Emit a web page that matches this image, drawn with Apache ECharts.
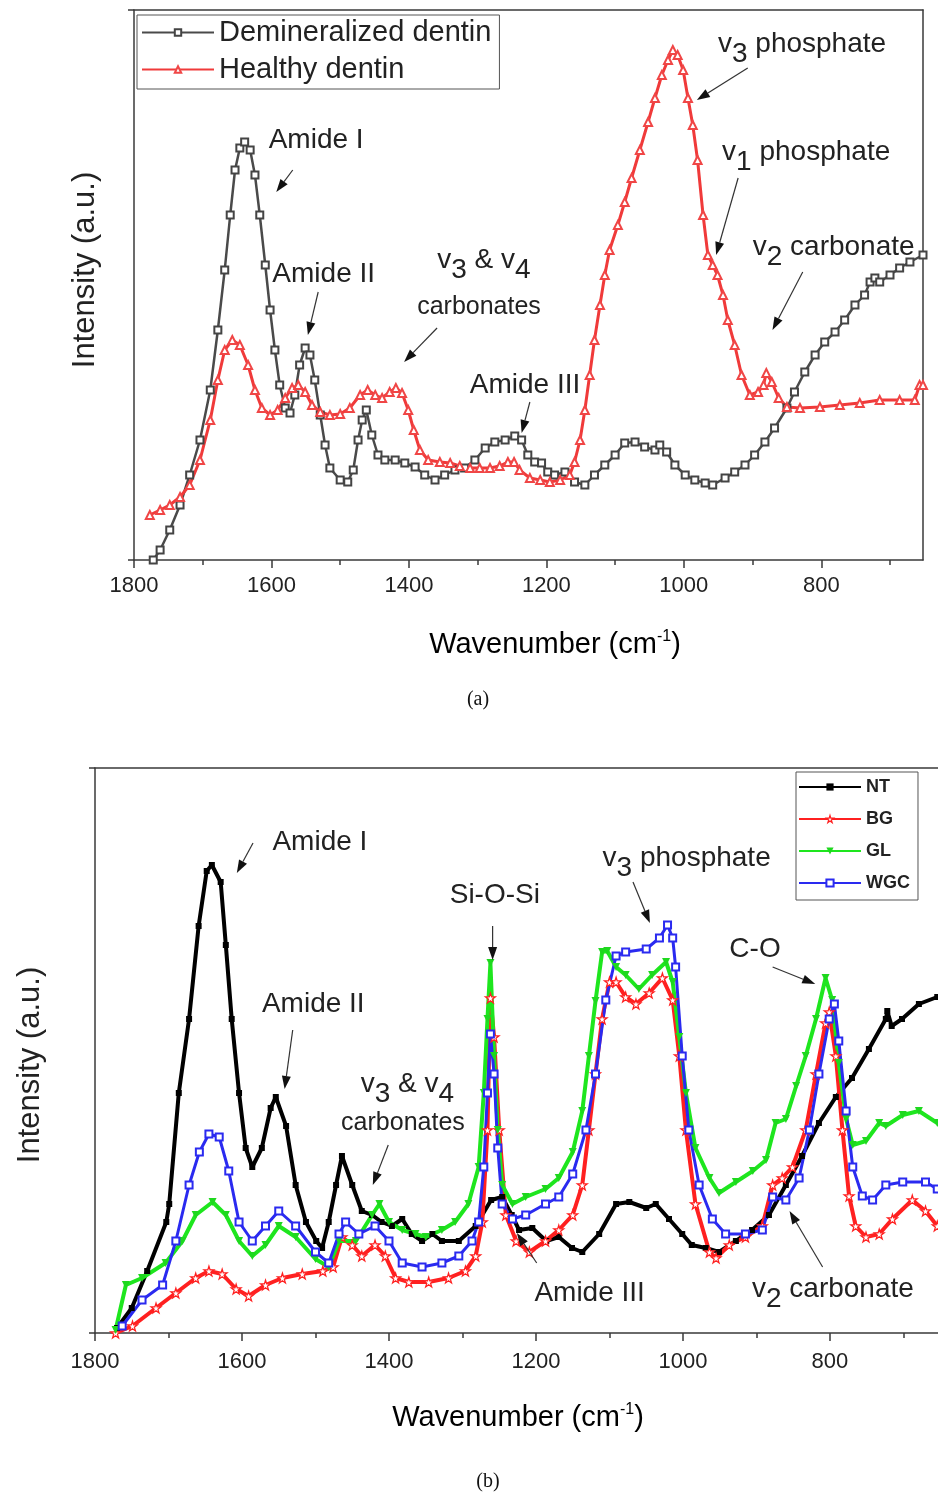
<!DOCTYPE html>
<html><head><meta charset="utf-8">
<script src="https://cdn.jsdelivr.net/npm/echarts@6/dist/echarts.min.js"></script>
<style>html,body{margin:0;padding:0;background:#fff}#c{width:938px;height:1499px}</style>
</head><body><div id="c"></div>
<script>
// ---------- Panel (a) data ----------
const demWave = [1772,1762,1748,1733,1719,1704,1689,1678,1668,1660,1653,1646,1639,1631,1624,1617,1609,1602,1595,1588,1580,1573,1566,1559,1551,1544,1537,1529,1522,1515,1500,1489,1481,1474,1468,1462,1454,1445,1435,1420,1406,1391,1377,1362,1348,1333,1319,1304,1289,1275,1260,1246,1236,1227,1217,1207,1198,1188,1173,1159,1144,1130,1115,1100,1086,1071,1057,1042,1035,1025,1013,998,984,969,958,940,926,911,897,882,868,850,839,824,809,795,780,766,751,737,729,722,715,700,686,671,652];
const demInt  = [0,10,30,55,85,120,170,230,290,345,390,412,418,410,385,345,295,250,210,175,152,147,165,195,212,205,180,145,115,92,80,78,90,120,140,150,125,105,100,100,97,93,85,80,85,90,92,100,112,118,120,124,120,105,98,97,88,85,88,78,75,85,95,105,117,118,113,110,115,108,95,85,80,77,75,82,88,95,105,118,132,152,168,188,205,218,228,240,255,265,278,282,278,285,292,298,305];
const healthyWave = [1777,1762,1748,1733,1719,1704,1689,1678,1668,1657,1646,1634,1624,1614,1602,1591,1580,1570,1561,1551,1541,1529,1515,1500,1486,1471,1460,1449,1439,1428,1419,1410,1401,1393,1384,1372,1355,1340,1326,1311,1297,1282,1268,1256,1247,1239,1224,1209,1195,1180,1166,1159,1151,1144,1137,1130,1122,1115,1108,1096,1086,1076,1064,1052,1042,1032,1023,1016,1009,1001,994,987,980,972,965,958,951,943,936,926,916,904,892,884,880,872,862,850,831,802,773,744,715,686,664,657,652];
const healthyInt  = [45,50,55,63,75,100,140,180,210,220,215,195,170,152,145,150,162,172,175,168,155,148,145,146,152,165,170,165,162,168,172,167,150,130,110,100,98,97,94,92,92,92,94,98,98,90,82,80,78,80,85,98,120,150,185,220,255,285,310,335,358,382,410,438,462,485,500,510,505,490,462,435,400,345,305,295,285,265,240,215,185,165,168,175,187,178,162,153,152,153,155,157,160,160,160,175,175];

// ---------- Panel (b) data ----------
const ntWave = [1770,1750,1729,1703,1699,1686,1672,1659,1648,1641,1629,1622,1614,1604,1595,1586,1573,1561,1554,1540,1527,1513,1499,1491,1482,1472,1464,1450,1437,1423,1410,1396,1382,1369,1355,1341,1328,1305,1282,1261,1246,1233,1223,1205,1186,1169,1151,1137,1114,1091,1073,1050,1037,1019,1001,988,969,951,928,906,883,860,838,815,792,770,747,724,722,716,702,679,654];
const ntInt  = [5,25,62,111,129,240,314,407,462,468,451,388,314,240,185,166,185,225,236,207,148,111,92,85,111,148,177,148,122,118,111,107,114,99,92,99,92,92,107,133,136,118,103,105,92,96,85,81,99,129,131,125,129,114,99,88,85,81,92,103,118,148,177,210,236,255,284,314,322,307,314,329,336];
const bgWave = [1772,1749,1717,1690,1663,1645,1627,1608,1591,1568,1545,1518,1490,1476,1464,1450,1437,1419,1405,1391,1373,1346,1319,1296,1282,1273,1266,1262,1257,1250,1241,1227,1209,1187,1169,1150,1137,1128,1119,1110,1100,1091,1078,1064,1046,1028,1014,1005,996,983,964,955,937,915,892,878,865,851,833,819,806,801,792,783,774,765,751,733,715,688,670,654];
const bgInt  = [0,7,25,40,55,62,59,44,37,48,55,59,62,66,96,88,77,88,77,55,51,51,55,62,77,111,203,335,296,203,118,92,81,92,103,118,148,203,259,314,351,351,336,329,340,355,333,277,203,129,81,75,88,96,107,148,155,166,203,259,310,321,277,203,137,107,96,99,114,133,122,107];
const glWave = [1772,1758,1736,1704,1681,1663,1640,1622,1604,1586,1568,1550,1527,1500,1482,1468,1445,1423,1413,1400,1382,1364,1350,1328,1310,1292,1278,1271,1266,1262,1257,1252,1246,1232,1214,1187,1169,1150,1137,1128,1119,1110,1103,1091,1078,1060,1042,1023,1014,1005,996,983,964,951,928,905,887,874,860,846,833,819,806,797,788,778,769,751,733,724,701,679,654];
const glInt  = [3,48,55,70,92,118,131,118,92,77,88,107,96,74,66,92,92,118,129,111,103,99,96,103,111,129,166,240,314,370,277,203,148,129,136,144,155,181,222,277,332,381,382,366,358,344,358,371,351,296,240,185,155,140,151,162,173,210,214,247,277,314,355,333,270,214,188,192,210,207,218,222,210];
const wgcWave = [1763,1736,1708,1690,1672,1658,1645,1631,1618,1604,1586,1568,1550,1527,1500,1482,1468,1459,1441,1419,1400,1382,1355,1328,1305,1287,1278,1271,1266,1262,1257,1252,1246,1232,1214,1187,1169,1150,1132,1119,1105,1091,1078,1050,1032,1021,1014,1010,1001,992,978,960,942,915,892,878,860,842,828,815,801,794,788,778,769,756,742,724,701,670,654];
const wgcInt  = [7,33,48,92,148,181,199,196,162,111,92,107,122,107,81,70,99,111,99,107,92,70,66,70,77,92,111,166,240,299,259,185,129,114,118,129,136,159,203,259,333,377,381,384,395,408,395,366,277,203,148,114,99,99,103,136,133,155,203,259,314,329,292,222,166,137,133,148,151,151,144];

// tick labels
const majorTicks = [800,1000,1200,1400,1600,1800];
const minorTicks = [700,900,1100,1300,1500,1700];

// annotations: label anchor, arrow tail, arrow head in data units (wavenumber, intensity)
const annA = [
  {t:'{n|Amide I}', at:[1535,420], tail:[1569,390], head:[1593,368]},
  {t:'{n|Amide II}', at:[1524,286], tail:[1532,268], head:[1547,225]},
  {t:'{n|v}{s|3}{n| & v}{s|4}', at:[1291,300], tail:null, head:null},
  {t:'{m|carbonates}', at:[1298,253], tail:[1359,232], head:[1407,198]},
  {t:'{n|Amide III}', at:[1231,175], tail:[1224,158], head:[1236,127]},
  {t:'{n|v}{s|3}{n| phosphate}', at:[828,516], tail:[907,492], head:[981,460]},
  {t:'{n|v}{s|1}{n| phosphate}', at:[822,408], tail:[921,382], head:[953,305]},
  {t:'{n|v}{s|2}{n| carbonate}', at:[782,313], tail:[827,288], head:[871,230]}
];
const annB = [
  {t:'{n|Amide I}', at:[1494,491], tail:[1585,490], head:[1607,460]},
  {t:'{n|Amide II}', at:[1503,329], tail:[1531,303], head:[1542,244]},
  {t:'{n|v}{s|3}{n| & v}{s|4}', at:[1375,249], tail:null, head:null},
  {t:'{m|carbonates}', at:[1381,210], tail:[1401,188], head:[1422,148]},
  {t:'{n|Si-O-Si}', at:[1256,438], tail:[1259,407], head:[1259,373]},
  {t:'{n|v}{s|3}{n| phosphate}', at:[995,475], tail:[1068,451], head:[1045,410]},
  {t:'{n|C-O}', at:[902,384], tail:[878,366], head:[820,349]},
  {t:'{n|Amide III}', at:[1127,40], tail:[1199,70], head:[1226,100]},
  {t:'{n|v}{s|2}{n| carbonate}', at:[796,44], tail:[810,66], head:[855,122]}
];

const FONT = 'Liberation Sans, Arial, Helvetica, sans-serif';
const NARROW = 'Liberation Sans Narrow, Arial Narrow, Liberation Sans, sans-serif';
const zip = (a,b) => a.map((v,i)=>[v,b[i]]);
const STAR = 'path://M50,0 L61,35 L98,35 L68,57 L79,91 L50,70 L21,91 L32,57 L2,35 L39,35 Z';

const axisCol = '#3a3a3a';
function xAxes(grid, min, margin){
  return [
    {type:'value', gridIndex:grid, min:min, max:1800, inverse:true, position:'bottom',
     axisLine:{lineStyle:{color:axisCol,width:1.5}},
     axisTick:{customValues:majorTicks, length:8, lineStyle:{color:axisCol,width:1.5}},
     axisLabel:{customValues:majorTicks, fontSize:22, color:'#222', margin:margin, fontFamily:NARROW,
                formatter:(v)=>String(v)},
     splitLine:{show:false}},
    {type:'value', gridIndex:grid, min:min, max:1800, inverse:true, position:'bottom',
     axisLine:{show:false}, axisLabel:{show:false},
     axisTick:{customValues:minorTicks, length:5, lineStyle:{color:axisCol,width:1.5}},
     splitLine:{show:false}},
    {type:'value', gridIndex:grid, min:min, max:1800, inverse:true, position:'top',
     axisLine:{lineStyle:{color:axisCol,width:1.5}}, axisTick:{show:false}, axisLabel:{show:false},
     splitLine:{show:false}}
  ];
}
function yAx(grid, max, pos, ticks){
  return {type:'value', gridIndex:grid, min:0, max:max, interval:max, position:pos,
    axisLine:{show:true, lineStyle:{color:axisCol,width:1.5}},
    axisTick:{show:ticks, length:6, lineStyle:{color:axisCol,width:1.5}},
    axisLabel:{show:false}, splitLine:{show:false}};
}

const option = {
  animation:false,
  backgroundColor:'#fff',
  grid:[
    {left:134, top:10, width:789, height:550},
    {left:95, top:768, width:843, height:565}
  ],
  xAxis:[...xAxes(0,652,15), ...xAxes(1,653,18)],
  yAxis:[yAx(0,550,'left',true), yAx(0,550,'right',false), yAx(1,565,'left',true)],
  legend:[
    {data:['Demineralized dentin','Healthy dentin'], orient:'vertical', left:137, top:15,
     itemWidth:72, itemHeight:8, itemGap:8, padding:[3,8,5,4],
     borderColor:'#555', borderWidth:1,
     textStyle:{fontSize:29, color:'#222', fontFamily:FONT}},
    {data:['NT',{name:'BG', itemStyle:{color:'#fff', borderColor:'#ff2020', borderWidth:1.2}},'GL','WGC'],
     orient:'vertical', left:796, top:772,
     itemWidth:62, itemHeight:9, itemGap:14, padding:[6,8,8,2],
     borderColor:'#555', borderWidth:1,
     textStyle:{fontSize:18, fontWeight:'bold', color:'#222', fontFamily:NARROW}}
  ],
  series:[
    {name:'Demineralized dentin', type:'line', xAxisIndex:0, yAxisIndex:0, data:zip(demWave,demInt),
     symbol:'emptyRect', symbolSize:7, showAllSymbol:true,
     lineStyle:{color:'#4a4a4a', width:2.5}, itemStyle:{color:'#444', borderWidth:1.2}},
    {name:'Healthy dentin', type:'line', xAxisIndex:0, yAxisIndex:0, data:zip(healthyWave,healthyInt),
     symbol:'emptyTriangle', symbolSize:8, showAllSymbol:true,
     lineStyle:{color:'#f03a3a', width:3}, itemStyle:{color:'#f04646', borderWidth:1.2}},
    {name:'NT', type:'line', xAxisIndex:3, yAxisIndex:2, data:zip(ntWave,ntInt),
     symbol:'rect', symbolSize:6, showAllSymbol:true,
     lineStyle:{color:'#000', width:4}, itemStyle:{color:'#000'}},
    {name:'BG', type:'line', xAxisIndex:3, yAxisIndex:2, data:zip(bgWave,bgInt),
     symbol:STAR, symbolSize:10, showAllSymbol:true,
     lineStyle:{color:'#ff2020', width:4}, itemStyle:{color:'#fff', borderColor:'#ff2020', borderWidth:1.2}},
    {name:'GL', type:'line', xAxisIndex:3, yAxisIndex:2, data:zip(glWave,glInt),
     symbol:'triangle', symbolRotate:180, symbolSize:8, showAllSymbol:true,
     lineStyle:{color:'#1ee61e', width:4}, itemStyle:{color:'#1ed81e'}},
    {name:'WGC', type:'line', xAxisIndex:3, yAxisIndex:2, data:zip(wgcWave,wgcInt),
     symbol:'emptyRect', symbolSize:7, showAllSymbol:true,
     lineStyle:{color:'#2a2af0', width:3}, itemStyle:{color:'#2a2af0', borderWidth:1.2}}
  ]
};

const chart = echarts.init(document.getElementById('c'), null, {renderer:'canvas'});
chart.setOption(option);

const rich = {
  n:{fontSize:28, fontFamily:FONT, fill:'#222', color:'#222'},
  s:{fontSize:28, fontFamily:FONT, fill:'#222', color:'#222', padding:[20,0,0,0]},
  m:{fontSize:25, fontFamily:FONT, fill:'#222', color:'#222'}
};
function annGraphics(list, xi, yi){
  const out = [];
  list.forEach(a=>{
    const p = chart.convertToPixel({xAxisIndex:xi, yAxisIndex:yi}, a.at);
    out.push({type:'text', x:p[0], y:p[1], z:100,
      style:{text:a.t, rich:rich, align:'center', verticalAlign:'middle'}});
    if(a.tail){
      const t = chart.convertToPixel({xAxisIndex:xi, yAxisIndex:yi}, a.tail);
      const h = chart.convertToPixel({xAxisIndex:xi, yAxisIndex:yi}, a.head);
      const dx = h[0]-t[0], dy = h[1]-t[1], L = Math.hypot(dx,dy);
      const ux = dx/L, uy = dy/L, nx = -uy, ny = ux, hl = 13, hw = 4.5;
      const bx = h[0]-ux*hl, by = h[1]-uy*hl;
      out.push({type:'line', z:100, shape:{x1:t[0],y1:t[1],x2:bx,y2:by}, style:{stroke:'#333', lineWidth:1.2}});
      out.push({type:'polygon', z:100, shape:{points:[[h[0],h[1]],[bx+nx*hw,by+ny*hw],[bx-nx*hw,by-ny*hw]]}, style:{fill:'#111'}});
    }
  });
  return out;
}
const axisRich = {
  n:{fontSize:29, fontFamily:FONT, color:'#222'},
  u:{fontSize:16, fontFamily:FONT, color:'#222', padding:[0,0,16,0]}
};
const titles = [
  {type:'text', x:85, y:270, rotation:Math.PI/2, style:{text:'Intensity (a.u.)', font:'31px '+FONT, fill:'#222', align:'center', verticalAlign:'middle'}},
  {type:'text', x:555, y:645, style:{text:'{n|Wavenumber (cm}{u|-1}{n|)}', rich:axisRich, align:'center', verticalAlign:'middle'}},
  {type:'text', x:478, y:700, style:{text:'(a)', font:'20px Liberation Serif, Times New Roman, serif', fill:'#111', align:'center', verticalAlign:'middle'}},
  {type:'text', x:30, y:1065, rotation:Math.PI/2, style:{text:'Intensity (a.u.)', font:'31px '+FONT, fill:'#222', align:'center', verticalAlign:'middle'}},
  {type:'text', x:518, y:1418, style:{text:'{n|Wavenumber (cm}{u|-1}{n|)}', rich:axisRich, align:'center', verticalAlign:'middle'}},
  {type:'text', x:488, y:1482, style:{text:'(b)', font:'20px Liberation Serif, Times New Roman, serif', fill:'#111', align:'center', verticalAlign:'middle'}}
];
chart.setOption({graphic:{elements:[...titles, ...annGraphics(annA,0,0), ...annGraphics(annB,3,2)]}});
</script></body></html>
